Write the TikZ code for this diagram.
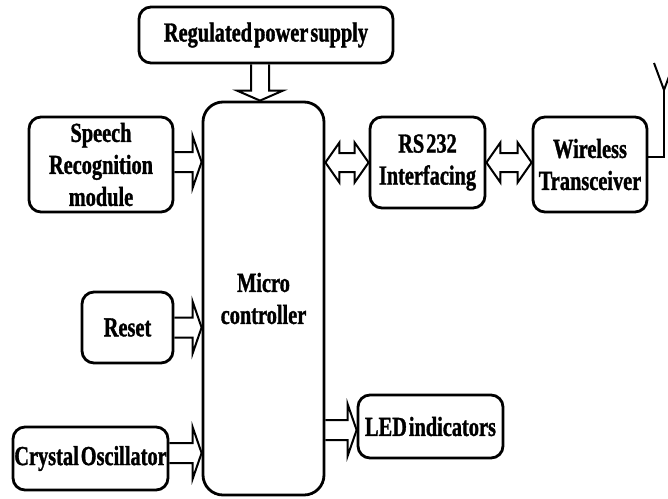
\documentclass[tikz,border=0pt]{standalone}
\usepackage{fontspec}
\setmainfont{Liberation Serif}[FakeStretch=0.74,WordSpace=0.4,BoldFeatures={FakeBold=1.2}]
\usepackage{tikz}
\usetikzlibrary{calc}
\tikzset{
  blockbox/.style={draw, line width=2.8pt, rounded corners=12pt, inner sep=0pt,
    align=center, font=\bfseries\fontsize{27.5}{32}\selectfont},
  hollow/.style={draw, line width=2pt, line join=miter},
  wire/.style={draw, line width=2pt}
}
% hollow block arrows between boxes: [shift] from, to, level node
\newcommand{\hollowR}[4][0]{%
  \draw[hollow] let \p1=(#2.east), \p2=(#3.west), \p3=(#4.center) in
    (\x1,\y3+#1pt+10pt) -- (\x2-9pt,\y3+#1pt+10pt) -- (\x2-9pt,\y3+#1pt+26pt)
    -- (\x2,\y3+#1pt) -- (\x2-9pt,\y3+#1pt-26pt) -- (\x2-9pt,\y3+#1pt-10pt)
    -- (\x1,\y3+#1pt-10pt);}
\newcommand{\hollowLR}[3]{%
  \draw[hollow] let \p1=(#1.east), \p2=(#2.west), \p3=(#3.center) in
    (\x1,\y3) -- (\x1+14pt,\y3+20pt) -- (\x1+14pt,\y3+9.5pt) -- (\x2-14pt,\y3+9.5pt)
    -- (\x2-14pt,\y3+20pt) -- (\x2,\y3) -- (\x2-14pt,\y3-20pt) -- (\x2-14pt,\y3-9.5pt)
    -- (\x1+14pt,\y3-9.5pt) -- (\x1+14pt,\y3-20pt) -- cycle;}

\begin{document}
\begin{tikzpicture}[x=1pt, y=-1pt]
  \useasboundingbox (0,0) rectangle (668,498);

  % boxes
  \node[blockbox, minimum width=254pt, minimum height=56pt] (supply) at (266,35) {Regulated power supply};
  \node[blockbox, rounded corners=20pt, minimum width=121pt, minimum height=393pt] (mc) at (263.5,298.5) {Micro\\controller};
  \node[blockbox, minimum width=144pt, minimum height=95pt] (speech) at (101,164.5) {Speech\\Recognition\\module};
  \node[blockbox, minimum width=91pt, minimum height=71pt] (reset) at (127.5,327.5) {Reset};
  \node[blockbox, minimum width=155pt, minimum height=63pt] (crystal) at (90.5,458.5) {Crystal Oscillator};
  \node[blockbox, minimum width=115pt, minimum height=91pt] (rs) at (427.5,162.5) {RS 232\\Interfacing};
  \node[blockbox, minimum width=114pt, minimum height=95pt] (wireless) at (590,164.5) {Wireless\\Transceiver};
  \node[blockbox, minimum width=145pt, minimum height=63pt] (led) at (430.5,426.5) {LED indicators};

  % power into controller
  \draw[hollow] let \p1=(supply.south), \p2=(mc.north) in
    (\x1-15pt,\y1) -- (\x1-15pt,\y2+10pt) -- (\x1-29pt,\y2+10pt) -- (\x1-6pt,\y2)
    -- (\x1+17pt,\y2+10pt) -- (\x1+3pt,\y2+10pt) -- (\x1+3pt,\y1);

  % inputs and outputs
  \hollowR[2.5]{speech}{mc}{speech}
  \hollowR{reset}{mc}{reset}
  \hollowR[5.5]{crystal}{mc}{crystal}
  \hollowR[-3.5]{mc}{led}{led}
  \hollowLR{mc}{rs}{rs}
  \hollowLR{rs}{wireless}{rs}

  % antenna
  \coordinate (ant) at (664,90);
  \draw[wire] ($(wireless.east)+(0,-7.5)$) -| (ant);
  \draw[wire] (ant) -- +(-10,-27);
  \draw[wire] (ant) -- +(10,-27);
\end{tikzpicture}
\end{document}
